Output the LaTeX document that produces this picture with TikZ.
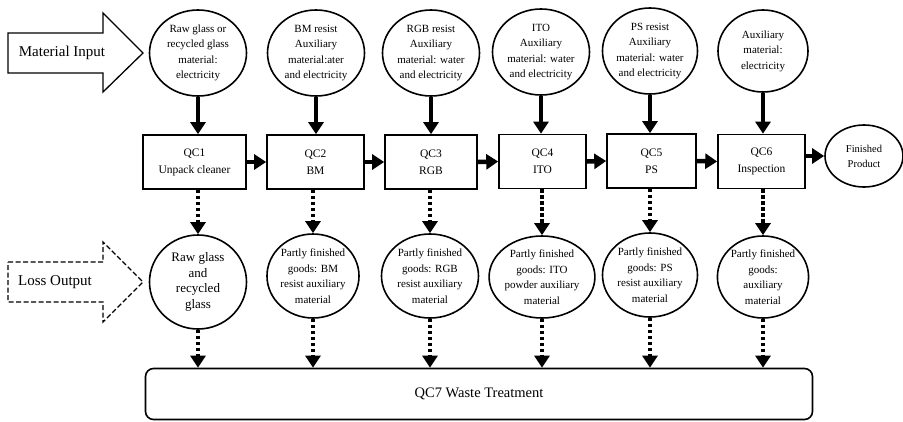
\documentclass[tikz,border=0pt]{standalone}
\usepackage{fontspec}
\setmainfont{Liberation Serif}
\usetikzlibrary{arrows.meta, shapes.geometric, positioning, calc}

\begin{document}
\begin{tikzpicture}[x=1pt, y=-1pt,
  oval/.style={ellipse, draw, line width=1.6pt, inner sep=0pt, align=center,
               minimum width=97pt, minimum height=86pt,
               font=\fontsize{11}{15.5}\selectfont},
  qcbox/.style={draw, line width=1.6pt, minimum height=54pt, inner sep=0pt,
                align=center, font=\fontsize{11.5}{17}\selectfont},
  feed/.style={line width=4.5pt, -{Triangle[length=12pt, width=15pt]}},
  drop/.style={line width=4.5pt, dash pattern=on 3.5pt off 2.5pt,
               -{Triangle[length=12pt, width=15pt]}},
  bigarrow/.style={line width=1.3pt, line join=miter}]
\useasboundingbox (0,0) rectangle (903,421);

% side arrows
\draw[bigarrow] (8,33) -- (103,33) -- (103,13) -- (143,53) -- (103,92)
  -- (103,73) -- (8,73) -- cycle;
\node[font=\fontsize{15}{18}\selectfont] (inlabel) at (62,53) {Material Input};
\draw[bigarrow, dash pattern=on 5pt off 2.5pt] (8,262) -- (103,262)
  -- (103,242) -- (143,282) -- (103,322) -- (103,302) -- (8,302) -- cycle;
\node[font=\fontsize{15}{18}\selectfont] (outlabel) at (55,282) {Loss Output};

% material input
\node[oval] (in1) at (198,53) {Raw glass or\\recycled glass\\material:\\electricity};
\node[oval] (in2) at (316,53) {BM resist\\Auxiliary\\material:ater\\and electricity};
\node[oval] (in3) at (431,53) {RGB resist\\Auxiliary\\material: water\\and electricity};
\node[oval] (in4) at (541,52) {ITO\\Auxiliary\\material: water\\and electricity};
\node[oval, minimum width=95pt] (in5) at (650,51)
  {PS resist\\Auxiliary\\material: water\\and electricity};
\node[oval, minimum width=90pt, minimum height=82pt] (in6) at (763,51)
  {Auxiliary\\material:\\electricity};

% process steps
\node[qcbox, minimum width=103pt] (qc1) at (194.5,162) {QC1\\Unpack cleaner};
\node[qcbox, minimum width=97pt] (qc2) at (315.5,162) {QC2\\BM};
\node[qcbox, minimum width=92pt] (qc3) at (431,162) {QC3\\RGB};
\node[qcbox, minimum width=87pt] (qc4) at (542.5,161.5) {QC4\\ITO};
\node[qcbox, minimum width=89pt] (qc5) at (651.5,161) {QC5\\PS};
\node[qcbox, minimum width=87pt] (qc6) at (761.5,161.5) {QC6\\Inspection};
\node[oval, minimum width=78pt, minimum height=62pt,
      font=\fontsize{10.5}{15}\selectfont] (fin) at (864,156) {Finished\\Product};

% loss output
\node[oval, minimum height=94pt, font=\fontsize{13}{15.5}\selectfont] (out1)
  at (198,282) {Raw glass\\and\\recycled\\glass};
\node[oval, minimum width=90pt, minimum height=84pt] (out2) at (313,276)
  {Partly finished\\goods: BM\\resist auxiliary\\material};
\node[oval, minimum width=97pt, minimum height=84pt] (out3) at (430,276)
  {Partly finished\\goods: RGB\\resist auxiliary\\material};
\node[oval, minimum width=96pt, minimum height=82pt] (out4) at (542,277)
  {Partly finished\\goods: ITO\\powder auxiliary\\material};
\node[oval, minimum width=95pt, minimum height=84pt] (out5) at (650,275)
  {Partly finished\\goods: PS\\resist auxiliary\\material};
\node[oval, minimum width=90pt, minimum height=82pt] (out6) at (763,277)
  {Partly finished\\goods:\\auxiliary\\material};

\node[draw, line width=1.6pt, rounded corners=8pt, minimum width=667pt,
      minimum height=51pt, font=\fontsize{14.5}{17}\selectfont] (waste)
  at (479,394) {QC7 Waste Treatment};

% connectors
\foreach \i in {1,...,6}{
  \draw[feed] (in\i.south) -- (in\i.south |- qc\i.north);
  \draw[drop] (out\i.north |- qc\i.south) -- (out\i.north);
  \draw[drop] (out\i.south) -- (out\i.south |- waste.north);
}
\foreach \i/\j in {1/2, 2/3, 3/4, 4/5, 5/6}
  \draw[feed] (qc\i.east) -- (qc\j.west);
\draw[feed] (qc6.east |- fin.west) -- (fin.west);
\end{tikzpicture}
\end{document}
